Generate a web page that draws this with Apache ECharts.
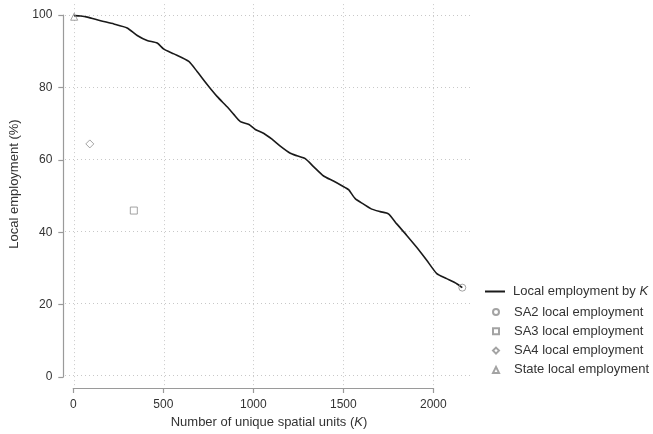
<!DOCTYPE html>
<html>
<head>
<meta charset="utf-8">
<script src="https://cdn.jsdelivr.net/npm/echarts@6/dist/echarts.min.js"></script>
<style>
  html, body { margin: 0; padding: 0; background: #fff; }
  #main { width: 653px; height: 434px; }
</style>
</head>
<body>
<div id="main"></div>
<script>
// number of unique spatial units K
var kValues = [1, 37, 74, 148, 222, 296, 352, 407, 463, 500, 556, 639, 685, 741, 796, 852, 889, 926,
  974, 1009, 1057, 1102, 1148, 1204, 1241, 1287, 1333, 1389, 1444, 1491, 1528, 1565, 1611, 1657,
  1704, 1750, 1796, 1852, 1907, 1963, 2019, 2074, 2130, 2161];
// local employment (%) by K
var lineValues = [99.8, 99.7, 99.4, 98.4, 97.5, 96.4, 94.3, 92.9, 92.2, 90.5, 89.2, 87.1, 84.3, 80.7,
  77.4, 74.5, 72.4, 70.4, 69.6, 68.2, 67.1, 65.5, 63.6, 61.6, 60.9, 60.1, 57.9, 55.3, 53.9, 52.6,
  51.5, 49.0, 47.5, 46.1, 45.4, 44.8, 42.0, 38.8, 35.5, 31.9, 28.2, 26.8, 25.4, 24.3];

var sa2Point = [2161, 24.3];
var sa3Point = [333, 45.7];
var sa4Point = [88, 64.2];
var statePoint = [1, 99.5];

var xTicks = [0, 500, 1000, 1500, 2000];
var yTicks = [0, 20, 40, 60, 80, 100];

var grey = '#8c8c8c';
var axisGrey = '#9a9a9a';
var font = 'Liberation Sans, Arial, sans-serif';

var myChart = echarts.init(document.getElementById('main'));

function pointSeries(name, symbol, size, pt) {
  return {
    name: name,
    type: 'scatter',
    xAxisIndex: 0,
    yAxisIndex: 0,
    symbol: symbol,
    symbolSize: size,
    clip: false,
    z: 5,
    itemStyle: { color: 'rgba(255,255,255,0)', borderColor: grey, borderWidth: 1 },
    data: [pt]
  };
}

var richText = {
  n: { fontFamily: font, fontSize: 13, color: '#333' },
  i: { fontFamily: font, fontSize: 13, color: '#333', fontStyle: 'italic' }
};

myChart.setOption({
  animation: false,
  textStyle: { fontFamily: font },
  grid: [
    // plot region (data + grid lines)
    { left: 64.3, top: 4.14, width: 408.6, height: 383.72 },
    // axis frame 0..2000 x 0..100
    { left: 73.3, top: 15, width: 360, height: 362 }
  ],
  legend: [
    {
      // line entry
      orient: 'vertical',
      left: 485,
      top: 285,
      padding: 0,
      itemWidth: 20,
      itemHeight: 2,
      textStyle: { fontFamily: font, fontSize: 13, color: '#333', padding: [0, 0, 0, 3], rich: richText },
      formatter: function () { return '{n|Local employment by }{i|K}'; },
      data: [{ name: 'Local employment by K', icon: 'rect' }]
    },
    {
      // point entries
      orient: 'vertical',
      left: 492,
      top: 304.5,
      padding: 0,
      itemWidth: 6,
      itemHeight: 6,
      itemGap: 4.3,
      textStyle: { fontFamily: font, fontSize: 13, color: '#333', lineHeight: 15, padding: [0, 0, 0, 10] },
      data: ['SA2 local employment', 'SA3 local employment', 'SA4 local employment', 'State local employment']
    }
  ],
  xAxis: [
    {
      gridIndex: 0,
      type: 'value',
      min: -50,
      max: 2220,
      axisLine: { show: false },
      axisTick: { show: false, customValues: xTicks },
      axisLabel: { show: false, customValues: xTicks },
      splitLine: { show: true, lineStyle: { color: '#c8c8c8', type: [1, 3], width: 1 } },
      name: '{n|Number of unique spatial units (}{i|K}{n|)}',
      nameLocation: 'middle',
      nameGap: 30,
      nameTextStyle: { rich: richText }
    },
    {
      gridIndex: 1,
      type: 'value',
      min: 0,
      max: 2000,
      interval: 500,
      offset: 11,
      axisLine: { show: true, onZero: false, lineStyle: { color: axisGrey, width: 1.2 } },
      axisTick: { show: true, length: 5, lineStyle: { color: axisGrey, width: 1.2 } },
      axisLabel: { color: '#333', fontSize: 12, margin: 11, fontFamily: font,
        formatter: function (v) { return String(v); } },
      splitLine: { show: false }
    }
  ],
  yAxis: [
    {
      gridIndex: 0,
      type: 'value',
      min: -3,
      max: 103,
      axisLine: { show: false },
      axisTick: { show: false, customValues: yTicks },
      axisLabel: { show: false, customValues: yTicks },
      splitLine: { show: true, lineStyle: { color: '#c8c8c8', type: [1, 3], width: 1 } },
      name: 'Local employment (%)',
      nameLocation: 'middle',
      nameGap: 44,
      nameTextStyle: { fontFamily: font, fontSize: 13, color: '#333', padding: [0, 0, 0, 22] }
    },
    {
      gridIndex: 1,
      type: 'value',
      min: 0,
      max: 100,
      interval: 20,
      offset: 10,
      axisLine: { show: true, onZero: false, lineStyle: { color: axisGrey, width: 1.2 } },
      axisTick: { show: true, length: 5, lineStyle: { color: axisGrey, width: 1.2 } },
      axisLabel: { color: '#333', fontSize: 12, margin: 11, fontFamily: font },
      splitLine: { show: false }
    }
  ],
  series: [
    {
      name: 'Local employment by K',
      type: 'line',
      xAxisIndex: 0,
      yAxisIndex: 0,
      symbol: 'none',
      clip: false,
      smooth: 0.2,
      lineStyle: { color: '#1a1a1a', width: 1.6 },
      itemStyle: { color: '#1a1a1a' },
      data: kValues.map(function (k, i) { return [k, lineValues[i]]; })
    },
    pointSeries('SA2 local employment', 'circle', 7, sa2Point),
    pointSeries('SA3 local employment', 'rect', 7, sa3Point),
    pointSeries('SA4 local employment', 'diamond', 8, sa4Point),
    pointSeries('State local employment', 'triangle', 7, statePoint)
  ]
});
</script>
</body>
</html>
